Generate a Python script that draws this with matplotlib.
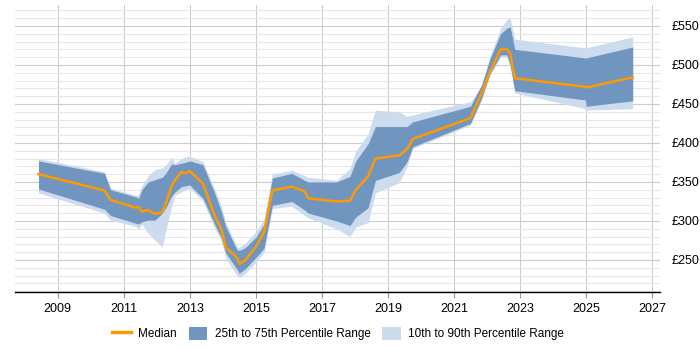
import matplotlib.pyplot as plt
from matplotlib.lines import Line2D
from matplotlib.patches import Patch
from matplotlib.ticker import MultipleLocator, FuncFormatter

plt.rcParams['font.family'] = ['Liberation Sans', 'DejaVu Sans']

# decimal years
years = [2008.42, 2010.42, 2010.6, 2011.36, 2011.45, 2011.55, 2011.74, 2011.95,
         2012.17, 2012.29, 2012.45, 2012.55, 2012.75, 2012.87, 2013.0, 2013.4,
         2013.76, 2013.95, 2014.09, 2014.43, 2014.5, 2014.69, 2015.02, 2015.25,
         2015.5, 2016.09, 2016.48, 2016.59, 2017.44, 2017.85, 2018.03, 2018.4,
         2018.62, 2019.34, 2019.58, 2019.75, 2021.5, 2021.84, 2022.09, 2022.41,
         2022.6, 2022.7, 2022.84, 2024.98, 2025.0, 2026.41]

median = [360, 339, 327, 317, 318, 312, 314, 309,
          311, 324, 345, 352, 363, 361, 364, 348,
          306, 290, 266, 253, 245, 250, 268, 286,
          339, 344, 338, 329, 325, 326, 340, 357,
          380, 384, 392, 405, 432, 464, 491, 520,
          520, 515, 483, 472, 471, 484]

p25 = [341, 315, 307, 297, 296, 299, 301, 301,
       310, 318, 332, 337, 344, 345, 346, 329,
       295, 279, 259, 238, 233, 239, 254, 265,
       320, 325, 314, 310, 300, 294, 305, 317,
       352, 362, 376, 395, 425, 458, 489, 513,
       513, 500, 467, 455, 447, 454]

p75 = [377, 361, 340, 331, 329, 340, 350, 353,
       356, 362, 373, 372, 374, 375, 377, 372,
       335, 313, 293, 263, 262, 266, 280, 296,
       355, 361, 352, 350, 350, 357, 377, 399,
       421, 421, 421, 427, 447, 475, 508, 540,
       547, 549, 520, 509, 509, 523]

p10 = [336, 310, 301, 293, 290, 296, 284, 275,
       267, 290, 318, 333, 337, 340, 342, 325,
       290, 275, 252, 230, 227, 233, 248, 260,
       316, 319, 307, 304, 290, 280, 292, 298,
       336, 349, 370, 393, 423, 455, 487, 510,
       510, 498, 464, 444, 442, 444]

p90 = [380, 363, 342, 333, 334, 345, 358, 366,
       368, 372, 382, 374, 380, 382, 383, 376,
       340, 320, 298, 267, 266, 272, 287, 303,
       360, 365, 358, 356, 352, 367, 390, 412,
       442, 440, 434, 436, 453, 473, 511, 547,
       558, 560, 533, 522, 522, 536]

DARK = '#7095bf'
LIGHT = '#ccdcee'
ORANGE = '#ff9900'

fig = plt.figure(figsize=(7, 3.5), dpi=100)
ax = fig.add_axes([0.021, 0.166, 0.922, 0.82])

ax.fill_between(years, p10, p90, color=LIGHT, lw=0)
ax.fill_between(years, p25, p75, color=DARK, lw=0)
ax.plot(years, median, color=ORANGE, lw=1.8)

ax.set_xlim(2007.7, 2027.24)
ax.set_ylim(209, 577)

ax.set_xticks(range(2009, 2028, 2))
ax.xaxis.set_major_formatter(FuncFormatter(lambda v, p: f'{int(round(v))}'))
ax.yaxis.set_major_locator(MultipleLocator(50))
ax.yaxis.set_minor_locator(MultipleLocator(10))
ax.yaxis.set_major_formatter(FuncFormatter(lambda v, p: f'£{int(v)}'))
ax.yaxis.tick_right()

ax.grid(True, which='major', axis='both', color='#cccccc', lw=0.8)
ax.grid(True, which='minor', axis='y', color='#e6e6e6', lw=0.8)
ax.set_axisbelow(True)

for s in ['top', 'left', 'right']:
    ax.spines[s].set_visible(False)
ax.spines['bottom'].set_color('black')
ax.spines['bottom'].set_linewidth(1)

ax.tick_params(axis='x', length=4, color='#999999', labelsize=9, pad=4)
ax.tick_params(axis='y', which='both', length=0, labelsize=9, pad=8)

handles = [Line2D([0], [0], color=ORANGE, lw=2.5),
           Patch(facecolor=DARK, edgecolor='none'),
           Patch(facecolor=LIGHT, edgecolor='none')]
labels = ['Median', '25th to 75th Percentile Range', '10th to 90th Percentile Range']
fig.legend(handles, labels, loc='center', bbox_to_anchor=(0.483, 0.047), ncol=3,
           frameon=False, fontsize=8.5, handlelength=1.6, handleheight=1.3,
           columnspacing=1.0, handletextpad=0.6)

fig.savefig('out.png', dpi=100)
